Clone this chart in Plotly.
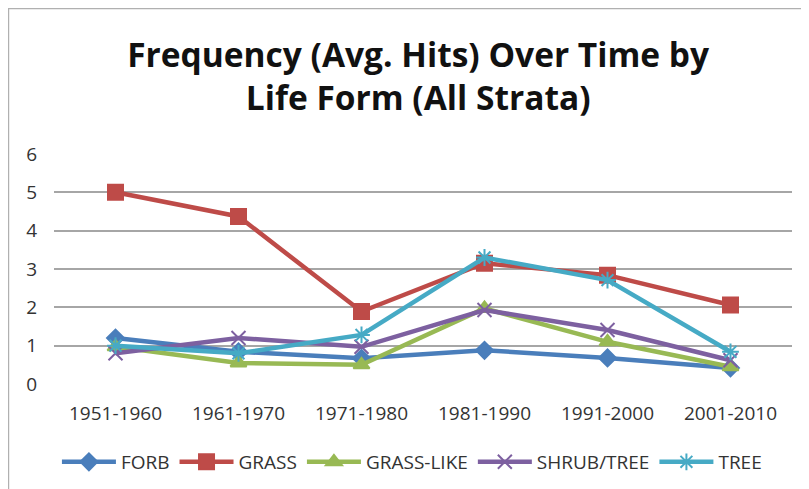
import plotly.graph_objects as go

categories = ["1951-1960", "1961-1970", "1971-1980", "1981-1990", "1991-2000", "2001-2010"]
forb = [1.2, 0.84, 0.67, 0.88, 0.68, 0.42]
grass = [5.0, 4.37, 1.89, 3.15, 2.84, 2.06]
grass_like = [0.97, 0.55, 0.5, 1.97, 1.1, 0.45]
shrub_tree = [0.8, 1.2, 0.97, 1.93, 1.41, 0.62]
tree = [1.0, 0.8, 1.28, 3.3, 2.71, 0.84]
y_ticks = [0, 1, 2, 3, 4, 5, 6]

series = [
    ("FORB", forb, "#4a7ebb", "diamond", 13),
    ("GRASS", grass, "#be4b48", "square", 15),
    ("GRASS-LIKE", grass_like, "#98b954", "triangle-up", 14),
    ("SHRUB/TREE", shrub_tree, "#7d60a0", "x-thin-open", 14),
    ("TREE", tree, "#46aac5", "asterisk-open", 14),
]

fig = go.Figure()
for name, vals, color, sym, size in series:
    fig.add_trace(go.Scatter(
        x=categories, y=vals, name=name, mode="lines+markers",
        line=dict(color=color, width=4.5),
        marker=dict(symbol=sym, size=size, color=color,
                    line=dict(color=color, width=2)),
    ))

fig.update_layout(
    width=809, height=489,
    margin=dict(l=46, r=25, t=146, b=113, autoexpand=False),
    paper_bgcolor="white", plot_bgcolor="white",
    font=dict(family="Open Sans, Liberation Sans, sans-serif", color="#333"),
    title=dict(
        text="<b>Frequency (Avg. Hits) Over Time by<br>Life Form (All Strata)</b>",
        x=0.507, xanchor="center", y=0.88, yanchor="middle",
        font=dict(size=33.5, color="#111", family="Open Sans, sans-serif"),
    ),
    xaxis=dict(
        type="category", range=[-0.5, 5.5], showgrid=False, zeroline=False,
        showline=False, ticks="", tickfont=dict(size=19, color="#333"),
        ticklabelstandoff=16, automargin=False,
    ),
    yaxis=dict(
        range=[0, 6], tickvals=y_ticks, showgrid=True, gridcolor="#a6a6a6",
        gridwidth=1.5, zeroline=False, showline=False, ticks="",
        tickfont=dict(size=19, color="#333"), ticklabelstandoff=16,
        automargin=False,
    ),
    legend=dict(
        orientation="h", x=0.485, xanchor="center", y=-0.339, yanchor="middle",
        font=dict(size=19, color="#333"), itemwidth=54, traceorder="normal",
    ),
    showlegend=True,
)

fig.add_shape(type="rect", xref="paper", yref="paper",
              x0=-0.0617, x1=1.1, y0=-0.6, y1=1.633,
              line=dict(color="#b0b0b0", width=1.5), layer="below")

fig.write_html("out.html")
